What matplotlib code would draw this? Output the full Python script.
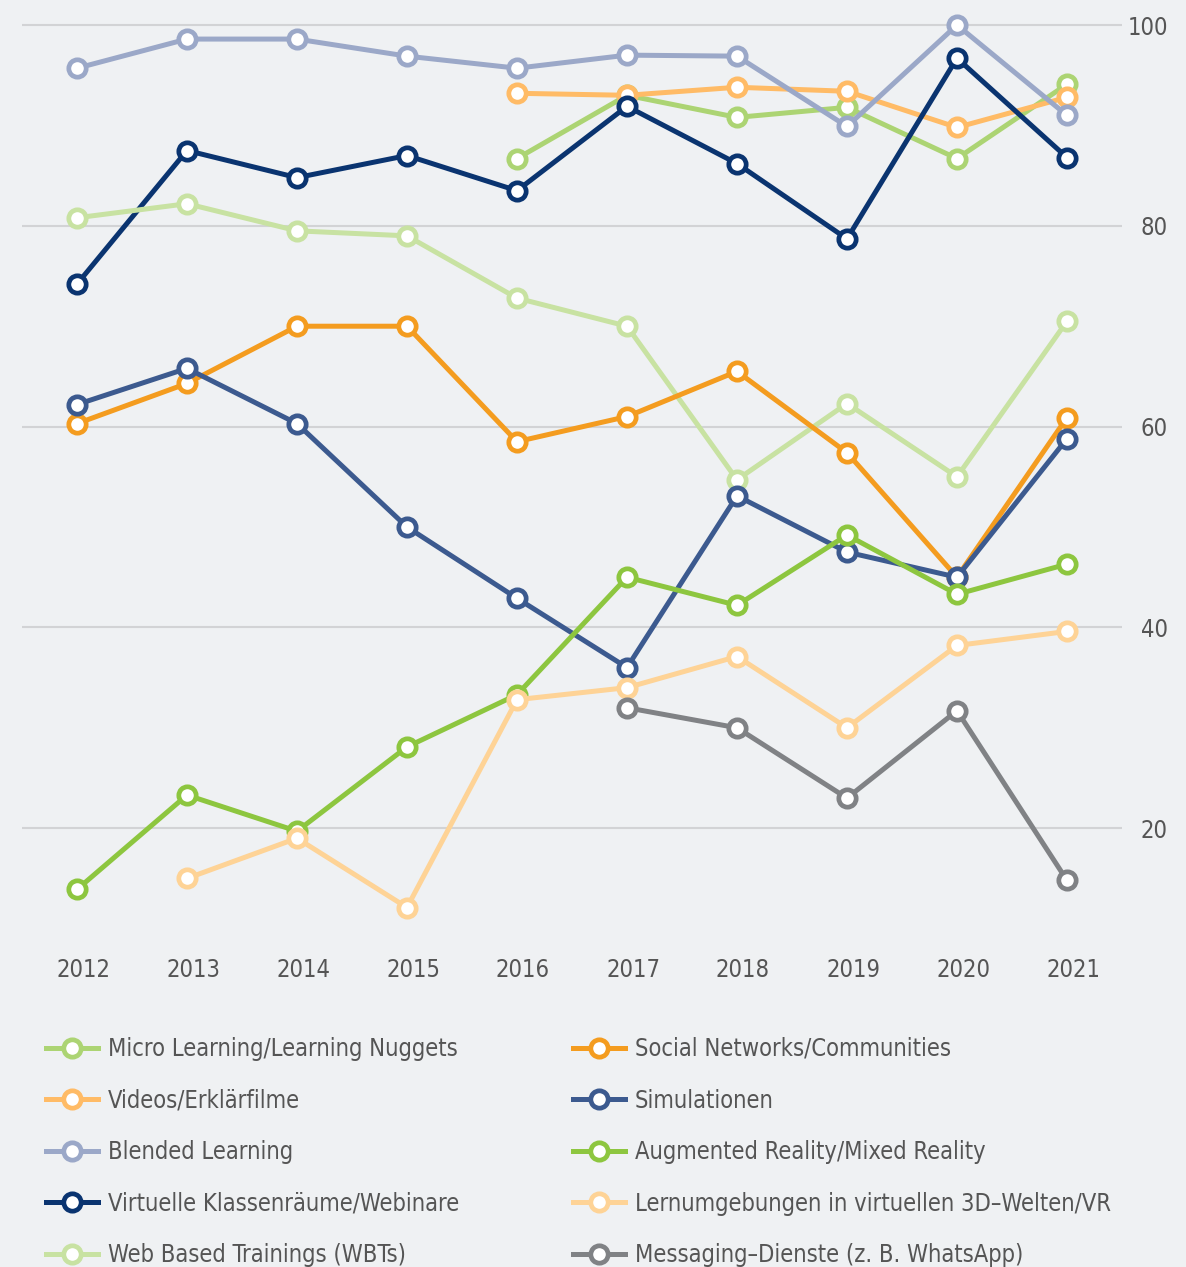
import matplotlib
matplotlib.use("Agg")
import matplotlib.pyplot as plt
import matplotlib.transforms as mtransforms
import numpy as np
from matplotlib.lines import Line2D

plt.rcParams['font.family'] = ['DejaVu Sans']
plt.rcParams['font.stretch'] = 'condensed'

years = [2012, 2013, 2014, 2015, 2016, 2017, 2018, 2019, 2020, 2021]
N = None

micro_learning = [N, N, N, N, 86.7, 93.0, 90.8, 91.8, 86.7, 94.1]
videos = [N, N, N, N, 93.2, 93.0, 93.8, 93.4, 89.8, 92.8]
blended_learning = [95.7, 98.6, 98.6, 96.9, 95.7, 97.0, 96.9, 89.9, 100.0, 91.0]
virtuelle_klassenraeume = [74.2, 87.5, 84.8, 87.0, 83.5, 91.9, 86.2, 78.7, 96.7, 86.8]
wbts = [80.8, 82.2, 79.5, 79.0, 72.8, 70.0, 54.7, 62.3, 55.0, 70.5]
social_networks = [60.3, 64.3, 70.0, 70.0, 58.5, 61.0, 65.5, 57.4, 45.0, 60.9]
simulationen = [62.2, 65.8, 60.3, 50.0, 42.9, 36.0, 53.1, 47.5, 45.0, 58.8]
augmented_reality = [13.9, 23.3, 19.7, 28.1, 33.3, 45.0, 42.2, 49.2, 43.3, 46.3]
lernumgebungen_3d = [N, 15.0, 19.0, 12.1, 32.8, 34.0, 37.1, 30.0, 38.2, 39.6]
messaging = [N, N, N, N, N, 32.0, 30.0, 23.0, 31.7, 14.8]

labels = [
    "Micro Learning/Learning Nuggets",
    "Videos/Erklärfilme",
    "Blended Learning",
    "Virtuelle Klassenräume/Webinare",
    "Web Based Trainings (WBTs)",
    "Social Networks/Communities",
    "Simulationen",
    "Augmented Reality/Mixed Reality",
    "Lernumgebungen in virtuellen 3D\u2013Welten/VR",
    "Messaging\u2013Dienste (z. B. WhatsApp)",
]
series = [micro_learning, videos, blended_learning, virtuelle_klassenraeume, wbts,
          social_networks, simulationen, augmented_reality, lernumgebungen_3d, messaging]
colors = ["#acd473", "#ffbb66", "#9ba8c8", "#0a3470", "#c8e2a2",
          "#f49c1f", "#3c5a8f", "#8dc63f", "#fed396", "#808285"]

BG = "#eff1f3"
W, H = 1186, 1267
fig = plt.figure(figsize=(W / 100, H / 100), dpi=100, facecolor=BG)
ax = fig.add_axes([22 / W, 1 - 930 / H, (1122 - 22) / W, (930 - 20) / H], facecolor=BG)

for vals, col, lab in zip(series, colors, labels):
    y = np.array([np.nan if v is None else v for v in vals], dtype=float)
    ax.plot(years, y, color=col, lw=3.6, marker='o', ms=12.5, mec=col, mfc='white',
            mew=3.4, label=lab, clip_on=False, solid_joinstyle='miter')

ax.set_xlim(2011.5, 2021.5)
ax.set_ylim(9.86, 100.5)
ax.set_yticks([20, 40, 60, 80, 100])
ax.set_xticks(years)
ax.yaxis.tick_right()
ax.grid(axis='y', color='#d2d3d5', lw=1.5)
ax.set_axisbelow(True)
for s in ax.spines.values():
    s.set_visible(False)
ax.tick_params(axis='both', length=0, labelsize=17, labelcolor='#555555')
ax.tick_params(axis='y', pad=33)
ax.tick_params(axis='x', pad=20)
for lbl in ax.get_yticklabels():
    lbl.set_horizontalalignment('right')
offset = mtransforms.ScaledTranslation(6 / 100, 0, fig.dpi_scale_trans)
for lbl in ax.get_xticklabels():
    lbl.set_transform(lbl.get_transform() + offset)

handles = [Line2D([0], [0], color=c, lw=3.6, marker='o', ms=12.5, mec=c, mfc='white', mew=3.4)
           for c in colors]

common = dict(frameon=False, fontsize=17, handlelength=2.2, handletextpad=0.42,
              labelspacing=1.165, borderpad=0, borderaxespad=0, labelcolor='#555555')
fig.legend(handles[:5], labels[:5], loc='upper left',
           bbox_to_anchor=(46 / W, 1 - 1037 / H), **common)
fig.legend(handles[5:], labels[5:], loc='upper left',
           bbox_to_anchor=(573 / W, 1 - 1037 / H), **common)

fig.savefig("out.png", dpi=100, facecolor=BG)
